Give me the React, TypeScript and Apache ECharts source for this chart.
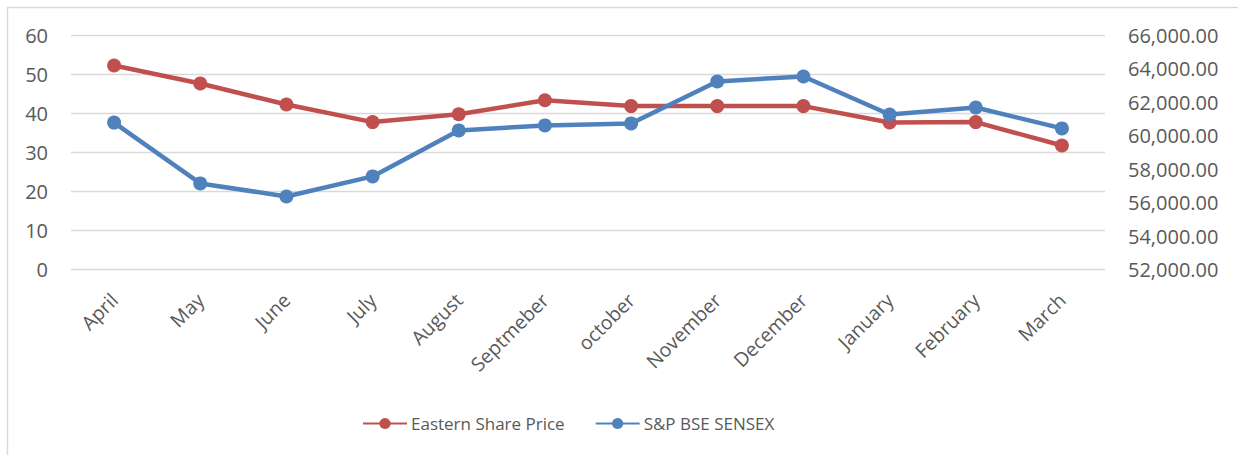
import React, { useEffect, useRef } from "react";
import * as echarts from "echarts";

const categories = ["April", "May", "June", "July", "August", "Septmeber", "october", "November", "December", "January", "February", "March"];
const easternSharePrice = [52.3, 47.7, 42.3, 37.8, 39.8, 43.4, 41.9, 41.9, 41.9, 37.7, 37.8, 31.8];
const sensex = [60790, 57150, 56370, 57570, 60320, 60620, 60740, 63250, 63550, 61270, 61690, 60440];
const leftTicks = { min: 0, max: 60, interval: 10 };
const rightTicks = { min: 52000, max: 66000, interval: 2000 };

const FONT = "'Open Sans', 'DejaVu Sans', sans-serif";
const TEXT = "#595959";

export default function App() {
  const ref = useRef<HTMLDivElement>(null);
  useEffect(() => {
    if (!ref.current) return;
    const chart = echarts.init(ref.current, null, { renderer: "svg" });
    chart.setOption({
      animation: false,
      backgroundColor: "#ffffff",
      textStyle: { fontFamily: FONT },
      graphic: [
        {
          type: "rect",
          shape: { x: 7.5, y: 7.5, width: 1260, height: 470 },
          style: { fill: "none", stroke: "#D9D9D9", lineWidth: 1.5 },
          silent: true,
        },
      ],
      grid: { left: 71, right: 133, top: 35.5, bottom: 185.5, containLabel: false },
      legend: {
        top: 410,
        left: 357,
        itemWidth: 44,
        itemHeight: 14,
        itemGap: 30,
        textStyle: { fontFamily: FONT, fontSize: 17, color: TEXT, padding: [0, 0, 0, -1] },
        data: ["Eastern Share Price", "S&P BSE SENSEX"],
      },
      xAxis: {
        type: "category",
        data: categories,
        boundaryGap: true,
        axisLine: { show: false },
        axisTick: { show: false },
        axisLabel: { rotate: 45, margin: 27, fontSize: 19.5, color: TEXT, fontFamily: FONT, interval: 0 },
      },
      yAxis: [
        {
          type: "value",
          position: "left",
          ...leftTicks,
          axisLine: { show: false },
          axisTick: { show: false },
          splitLine: { lineStyle: { color: "#D9D9D9", width: 1.3 } },
          axisLabel: { margin: 23, fontSize: 20, color: TEXT, fontFamily: FONT },
        },
        {
          type: "value",
          position: "right",
          ...rightTicks,
          axisLine: { show: false },
          axisTick: { show: false },
          splitLine: { show: false },
          axisLabel: {
            margin: 23,
            fontSize: 20,
            color: TEXT,
            fontFamily: FONT,
            formatter: (v: number) => v.toLocaleString("en-US", { minimumFractionDigits: 2, maximumFractionDigits: 2 }),
          },
        },
      ],
      series: [
        {
          name: "Eastern Share Price",
          type: "line",
          yAxisIndex: 0,
          data: easternSharePrice,
          color: "#C0504D",
          symbol: "circle",
          symbolSize: 14,
          lineStyle: { width: 4.5, color: "#C0504D" },
          itemStyle: { color: "#C0504D" },
        },
        {
          name: "S&P BSE SENSEX",
          type: "line",
          yAxisIndex: 1,
          data: sensex,
          color: "#4F81BD",
          symbol: "circle",
          symbolSize: 14,
          lineStyle: { width: 4.5, color: "#4F81BD" },
          itemStyle: { color: "#4F81BD" },
        },
      ],
    });
    return () => chart.dispose();
  }, []);
  return <div ref={ref} style={{ position: "absolute", left: 0, top: 0, width: 1238, height: 455 }} />;
}
